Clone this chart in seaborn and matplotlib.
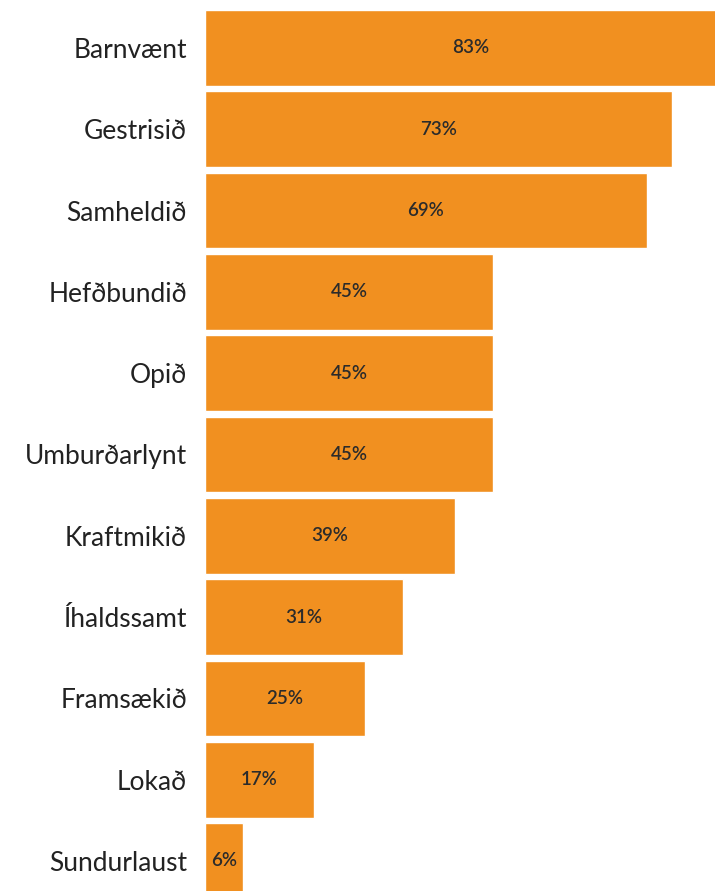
import pandas as pd
import seaborn as sns
from matplotlib import pyplot as plt

# gögn lesin af myndinni
eiginleikar = ["Barnvænt", "Gestrisið", "Samheldið", "Hefðbundið", "Opið", "Umburðarlynt",
               "Kraftmikið", "Íhaldssamt", "Framsækið", "Lokað", "Sundurlaust"]
hlutfall = [83, 73, 69, 45, 45, 45, 39, 31, 25, 17, 6]

df = pd.DataFrame({"eiginleiki": eiginleikar, "hlutfall": hlutfall})

sns.set_theme(style="white")
plt.rcParams['font.family'] = ['Lato', 'DejaVu Sans']

fig = plt.figure(figsize=(7.15, 8.91), dpi=100)
ax = fig.add_axes([205 / 715, 0, 510 / 715, 1])

sns.barplot(data=df, x="hlutfall", y="eiginleiki", orient="h", color="#F19020",
            saturation=1, width=0.93, ax=ax)

ax.set_xlim(0, 79.7)
ax.set_ylim(10.369, -0.590)

for i, v in enumerate(hlutfall):
    ax.text(v / 2, i, f"{v}%", ha="center", va="center", fontsize=13.5,
            color="#2b2b2b", fontweight="semibold")

ax.set_xlabel("")
ax.set_ylabel("")
ax.set_xticks([])
ax.tick_params(axis="y", length=0, pad=13, labelsize=19, labelcolor="#222222")
sns.despine(ax=ax, left=True, bottom=True)

fig.savefig("out.png", dpi=100)
